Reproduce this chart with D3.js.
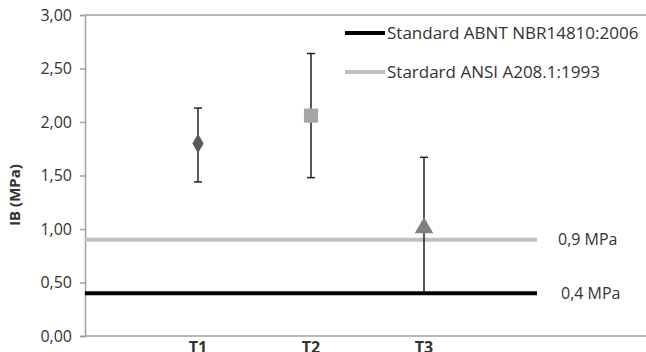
<!DOCTYPE html>
<html lang="en">
<head>
    <meta charset="utf-8">
    <title>IB chart</title>
    <script type="text/javascript" src="https://cdn.jsdelivr.net/npm/d3@7"></script>
    <style>
        body { margin: 0; background: #fff; }
        text { font-family: "Open Sans", sans-serif; }
    </style>
</head>
<body>
<script type="text/javascript">
    var categories = ["T1", "T2", "T3"];
    var means = [1.80, 2.06, 1.01];
    var upper = [2.13, 2.64, 1.67];
    var lower = [1.44, 1.48, 0.40];
    var yTicks = [0, 0.5, 1, 1.5, 2, 2.5, 3];
    var limits = [
        { name: "Standard ABNT NBR14810:2006", value: 0.4, label: "0,4 MPa" },
        { name: "Stardard ANSI A208.1:1993", value: 0.9, label: "0,9 MPa" }
    ];
    var limitColors = ["#000000", "#bfbfbf"];
    var markerColors = ["#595959", "#a6a6a6", "#7f7f7f"];
    var shapes = [d3.symbolDiamond, d3.symbolSquare, d3.symbolTriangle];

    var w = 646, h = 352;
    var padLeft = 85, padTop = 15, padBottom = 336;

    var xScale = d3.scaleLinear().domain([0, 4]).range([padLeft, 537]);
    var yScale = d3.scaleLinear().domain([0, 3]).range([padBottom, padTop]);

    var svg = d3.select("body").append("svg")
        .attr("width", w)
        .attr("height", h);

    // frame lines: top edge and x axis run to the right edge
    svg.append("line")
        .attr("x1", padLeft).attr("x2", w)
        .attr("y1", yScale(3)).attr("y2", yScale(3))
        .attr("stroke", "#a0a0a0").attr("stroke-width", 1.5);
    svg.append("line")
        .attr("x1", padLeft).attr("x2", w)
        .attr("y1", yScale(0)).attr("y2", yScale(0))
        .attr("stroke", "#a0a0a0").attr("stroke-width", 1.5);

    var yAxis = d3.axisLeft(yScale)
        .tickValues(yTicks)
        .tickSize(5)
        .tickPadding(8)
        .tickFormat(function(d) { return d3.format(".2f")(d).replace(".", ","); });
    var gy = svg.append("g")
        .attr("transform", "translate(" + padLeft + ",0)")
        .call(yAxis);
    gy.select(".domain").attr("stroke", "#a0a0a0").attr("stroke-width", 1.5);
    gy.selectAll(".tick line").attr("stroke", "#a0a0a0").attr("stroke-width", 1.5);
    gy.selectAll(".tick text")
        .attr("font-size", "16px")
        .attr("font-family", "Open Sans, sans-serif")
        .attr("fill", "#333");

    svg.append("text")
        .attr("transform", "translate(20,195) rotate(-90)")
        .attr("text-anchor", "middle")
        .attr("font-size", "15px")
        .attr("font-weight", "bold")
        .attr("fill", "#333")
        .text("IB (MPa)");

    // category labels
    svg.selectAll(".xlab")
        .data(categories)
        .enter()
        .append("text")
        .attr("class", "xlab")
        .attr("x", function(d, i) { return xScale(i + 1); })
        .attr("y", 353)
        .attr("text-anchor", "middle")
        .attr("font-size", "16px")
        .attr("font-weight", "bold")
        .attr("fill", "#333")
        .text(function(d) { return d; });

    // limit lines
    svg.selectAll(".limit")
        .data(limits)
        .enter()
        .append("line")
        .attr("class", "limit")
        .attr("x1", xScale(0)).attr("x2", xScale(4))
        .attr("y1", function(d) { return yScale(d.value); })
        .attr("y2", function(d) { return yScale(d.value); })
        .attr("stroke", function(d, i) { return limitColors[i]; })
        .attr("stroke-width", 4);

    svg.selectAll(".limlab")
        .data(limits)
        .enter()
        .append("text")
        .attr("class", "limlab")
        .attr("x", function(d, i) { return i === 0 ? 561 : 558; })
        .attr("y", function(d) { return yScale(d.value); })
        .attr("dy", "0.35em")
        .attr("font-size", "16px")
        .attr("fill", "#333")
        .text(function(d) { return d.label; });

    // error bars
    var eb = svg.selectAll(".err")
        .data(categories)
        .enter()
        .append("g")
        .attr("class", "err");
    eb.append("line")
        .attr("x1", function(d, i) { return xScale(i + 1); })
        .attr("x2", function(d, i) { return xScale(i + 1); })
        .attr("y1", function(d, i) { return yScale(lower[i]); })
        .attr("y2", function(d, i) { return yScale(upper[i]); })
        .attr("stroke", "#222").attr("stroke-width", 1.5);
    eb.append("line")
        .attr("x1", function(d, i) { return xScale(i + 1) - 4; })
        .attr("x2", function(d, i) { return xScale(i + 1) + 4; })
        .attr("y1", function(d, i) { return yScale(upper[i]); })
        .attr("y2", function(d, i) { return yScale(upper[i]); })
        .attr("stroke", "#222").attr("stroke-width", 1.5);
    eb.filter(function(d, i) { return i < 2; })
        .append("line")
        .attr("x1", function(d, i) { return xScale(i + 1) - 4; })
        .attr("x2", function(d, i) { return xScale(i + 1) + 4; })
        .attr("y1", function(d, i) { return yScale(lower[i]); })
        .attr("y2", function(d, i) { return yScale(lower[i]); })
        .attr("stroke", "#222").attr("stroke-width", 1.5);

    // markers
    var sizes = [110, 200, 150];
    svg.selectAll(".pt")
        .data(categories)
        .enter()
        .append("path")
        .attr("class", "pt")
        .attr("d", function(d, i) { return d3.symbol().type(shapes[i]).size(sizes[i])(); })
        .attr("transform", function(d, i) {
            return "translate(" + xScale(i + 1) + "," + yScale(means[i]) + ")";
        })
        .attr("fill", function(d, i) { return markerColors[i]; });

    // legend
    var lg = svg.selectAll(".leg")
        .data(limits)
        .enter()
        .append("g")
        .attr("class", "leg")
        .attr("transform", function(d, i) { return "translate(345," + (33 + i * 39) + ")"; });
    lg.append("line")
        .attr("x1", 0).attr("x2", 40)
        .attr("stroke", function(d, i) { return limitColors[i]; })
        .attr("stroke-width", 4);
    lg.append("text")
        .attr("x", 42)
        .attr("dy", "0.35em")
        .attr("font-size", "17px")
        .attr("fill", "#333")
        .text(function(d) { return d.name; });
</script>
</body>
</html>
